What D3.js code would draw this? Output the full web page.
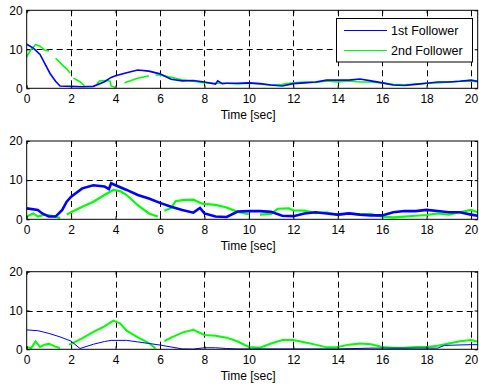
<!DOCTYPE html>
<html><head><meta charset="utf-8">
<script src="https://cdn.jsdelivr.net/npm/d3@7"></script>
<style>body{margin:0;background:#fff}svg{display:block}</style>
</head><body>
<script>
// ---- data ----
const xTicks = [0,2,4,6,8,10,12,14,16,18,20];
const yTicks = [0,10,20];
const seriesNames = ["1st Follower","2nd Follower"];
const xLabel = "Time [sec]";

const p1Follower1 = [[0,11.3],[0.3,10.3],[0.6,8.7],[0.8,6.5],[1.05,3.8],[1.3,1.8],[1.5,0.6],[2,0.5],[2.5,0.4],[3,0.5],[3.5,1.7],[3.8,2.8],[4,3.2],[4.5,4],[5,4.7],[5.5,4.4],[6,3.7],[6.5,2.3],[7,1.9],[7.5,2],[8,1.6],[8.5,1.1],[8.6,1.9],[8.8,1.2],[9,1.3],[9.5,1.3],[10,1.4],[10.5,1.2],[11,0.85],[11.5,0.6],[12,1.2],[12.5,1.4],[13,1.6],[13.5,2.1],[14,2.1],[14.5,2.1],[15,2.4],[15.5,1.9],[16,1.4],[16.5,0.85],[17,0.7],[17.5,1],[18,1.3],[18.5,1.6],[19,1.6],[19.5,1.8],[20,2.1],[20.3,1.8]];
const p1Follower2 = [[0,8.1],[0.2,10],[0.4,11.2],[0.6,10.8],[0.8,9.8],[1.0,9.6],[1.05,null],[1.3,7.7],[1.6,6],[1.8,5],[1.95,3.9],[2.0,null],[2.1,2.6],[2.4,1.7],[2.6,0.6],[2.7,null],[2.8,0.9],[3.0,null],[3.15,1.2],[3.3,1.9],[3.6,2.0],[3.75,1.8],[3.8,0.6],[4.0,0.2],[4.05,null],[4.4,1.4],[5,2.6],[5.5,3.2],[5.6,null],[5.8,3.4],[6,3.4],[6.5,2.8],[7,2.2],[7.5,1.8],[8,1.4],[8.5,1.3],[9,1.3],[9.5,1.1],[10,1.3],[10.5,1.1],[11,0.8],[11.5,1.0],[12,1.4],[12.5,1.6],[13,1.5],[13.5,1.9],[14,1.6],[14.5,1.9],[15,1.6],[15.5,1.6],[16,1.4],[16.5,1.0],[17,0.9],[17.5,1.1],[18,1.3],[18.5,1.4],[19,1.6],[19.5,1.8],[20,1.9],[20.3,1.6]];

const p2Follower1 = [[0,2.8],[0.5,2.4],[0.7,1.5],[1,0.7],[1.3,0.7],[1.6,2.4],[1.8,4.5],[2,5.8],[2.5,7.9],[3,8.7],[3.5,8.4],[3.7,7.7],[3.8,9.2],[4,8.7],[4.5,7.5],[5,6.2],[5.5,5.3],[6,4.2],[6.5,3.2],[7,2.4],[7.5,1.7],[7.8,2.9],[8,1.5],[8.5,0.7],[9,0.6],[9.5,2.0],[10,2.1],[10.5,2.1],[11,1.9],[11.5,0.9],[12,0.8],[12.5,1.5],[13,1.8],[13.5,1.5],[14,1.2],[14.5,1.5],[15,1.2],[15.5,1.0],[16,1.0],[16.5,1.8],[17,2.1],[17.5,2.1],[18,2.4],[18.5,2.1],[19,1.8],[19.5,1.8],[20,1.2],[20.3,0.9]];
const p2Follower2 = [[0,0.7],[0.3,1.5],[0.5,0.7],[0.8,1.2],[1,1.0],[1.3,0.7],[1.5,0.3],[1.55,null],[1.8,1.2],[2,1.8],[2.5,3.2],[3,4.5],[3.5,6.2],[3.9,7.5],[4.2,7.2],[4.5,6.2],[5,3.6],[5.5,1.5],[5.9,0.7],[6.0,null],[6.2,2.2],[6.5,2.9],[6.7,4.6],[7,4.9],[7.5,5.0],[7.9,4.0],[8.1,3.9],[8.5,3.7],[9,3.0],[9.5,1.9],[10,1.3],[10.2,null],[10.5,1.2],[11,1.4],[11.3,2.7],[11.8,2.8],[12,2.3],[12.5,2.2],[13,1.6],[13.5,1.8],[14,1.1],[14.5,1.5],[15,1.2],[15.5,1.3],[16,0.7],[16.5,0.5],[17,0.7],[17.5,0.9],[18,1.1],[18.5,1.5],[19,1.2],[19.5,1.8],[20,2.4],[20.3,1.8]];

const p3Follower1 = [[0,5.0],[0.5,4.8],[1,4.1],[1.5,3.2],[2,2.1],[2.4,0.2],[3,1.3],[3.5,2.0],[3.8,2.3],[4.5,2.3],[5,1.9],[5.5,1.5],[6,1.1],[6.5,0.6],[7,0.1],[7.5,0.05],[8,0.4],[8.5,0.4],[9,0.2],[9.5,0.1],[10,0.1],[12,0.1],[14,0.1],[15.5,0.3],[18.5,0.3],[18.8,1.0],[20,1.2],[20.3,1.2]];
const p3Follower2 = [[0,0.6],[0.2,0.3],[0.4,2.0],[0.6,0.6],[0.8,1.2],[1,1.4],[1.3,0.7],[1.5,0.3],[1.6,null],[1.9,1.2],[2,1.4],[2.5,2.8],[3,4.5],[3.5,5.9],[3.9,7.4],[4.2,6.7],[4.5,4.8],[5,3.1],[5.5,1.6],[5.8,0.2],[5.9,null],[6.2,2.1],[6.5,3.0],[7,4.3],[7.5,5.0],[8,3.7],[8.5,3.5],[9,3.0],[9.5,2.0],[10,0.6],[10.5,0.4],[11,1.5],[11.5,2.4],[12,2.4],[12.5,1.8],[13,1.2],[13.5,0.5],[14,0.6],[14.5,1.2],[15,1.5],[15.5,1.3],[16,0.6],[16.5,0.4],[17,0.4],[17.5,0.6],[18,0.6],[18.5,0.9],[19,1.5],[19.5,2.1],[20,2.4],[20.3,2.0]];

const panels = [
  {f1: p1Follower1, f2: p1Follower2, w1: 1.6, w2: 1.6, legend: true},
  {f1: p2Follower1, f2: p2Follower2, w1: 2.6, w2: 2.2, legend: false},
  {f1: p3Follower1, f2: p3Follower2, w1: 1.0, w2: 2.0, legend: false}
];
const colors = ["#0000ff","#00ff00"];

// ---- layout ----
const W = 479, H = 391;
const left = 26.7, right = 477.7;
const tops = [10.3, 141, 271.7], bottoms = [88.3, 219.3, 349.3];
const fontFam = "Arial, 'Liberation Sans', Helvetica, sans-serif";

const svg = d3.select("body").append("svg").attr("width", W).attr("height", H);
const x = d3.scaleLinear().domain([0, 20.3]).range([left, right]);

panels.forEach((p, i) => {
  const y = d3.scaleLinear().domain([0, 20]).range([bottoms[i], tops[i]]);
  const g = svg.append("g");
  // grid
  const grid = g.append("g").attr("stroke", "#000").attr("stroke-width", 1).attr("stroke-dasharray", "6,4");
  xTicks.filter(t => t > 0).forEach(t => {
    grid.append("line").attr("x1", Math.round(x(t)) + 0.5).attr("x2", Math.round(x(t)) + 0.5)
      .attr("y1", y(20)).attr("y2", y(0));
  });
  [10].forEach(t => {
    grid.append("line").attr("x1", x(0)).attr("x2", x(20.3))
      .attr("y1", Math.round(y(t)) + 0.5).attr("y2", Math.round(y(t)) + 0.5);
  });
  // series
  const line = d3.line().defined(d => d[1] !== null).x(d => x(d[0])).y(d => y(d[1]));
  g.append("path").datum(p.f2).attr("fill", "none").attr("stroke", colors[1]).attr("stroke-width", p.w2).attr("d", line);
  g.append("path").datum(p.f1).attr("fill", "none").attr("stroke", colors[0]).attr("stroke-width", p.w1).attr("d", line);

  // axes
  const ax = g.append("g").attr("transform", `translate(0,${y(0)})`)
    .call(d3.axisBottom(x).tickValues(xTicks).tickSize(-3).tickPadding(6));
  const axT = g.append("g").attr("transform", `translate(0,${y(20)})`)
    .call(d3.axisTop(x).tickValues(xTicks).tickSize(-3).tickFormat(""));
  const ay = g.append("g").attr("transform", `translate(${left},0)`)
    .call(d3.axisLeft(y).tickValues(yTicks).tickSize(-3).tickPadding(4));
  const ayR = g.append("g").attr("transform", `translate(${right},0)`)
    .call(d3.axisRight(y).tickValues(yTicks).tickSize(-3).tickFormat(""));
  [ax, axT, ay, ayR].forEach(a => {
    a.select(".domain").remove();
    a.selectAll("line").attr("stroke", "#000");
    a.selectAll("text").attr("fill", "#000").style("font-family", fontFam).style("font-size", "12px");
  });
  g.append("rect").attr("x", left).attr("y", y(20)).attr("width", right - left).attr("height", y(0) - y(20))
    .attr("fill", "none").attr("stroke", "#000").attr("stroke-width", 1);

  g.append("text").attr("x", (left + right) / 2 - 4).attr("y", y(0) + 31)
    .attr("text-anchor", "middle").style("font-family", fontFam).style("font-size", "12px").text(xLabel);

  if (p.legend) {
    const lg = g.append("g");
    lg.append("rect").attr("x", 336.5).attr("y", 18.5).attr("width", 136).attr("height", 43.5)
      .attr("fill", "#fff").attr("stroke", "#000").attr("stroke-width", 1);
    seriesNames.forEach((n, k) => {
      const yy = 30 + k * 20;
      lg.append("line").attr("x1", 344).attr("x2", 387).attr("y1", yy + 0.5).attr("y2", yy + 0.5)
        .attr("stroke", colors[k]).attr("stroke-width", 1);
      lg.append("text").attr("x", 391).attr("y", yy + 4.5).style("font-family", fontFam).style("font-size", "12.5px").text(n);
    });
  }
});
</script>
</body></html>
